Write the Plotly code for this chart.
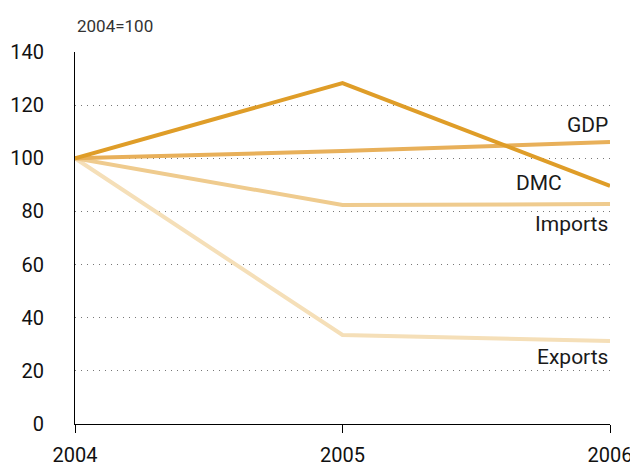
import plotly.graph_objects as go

years = [2004, 2005, 2006]
dmc = [100, 128.3, 89.6]
gdp = [100, 102.7, 106.1]
imports = [100, 82.4, 82.8]
exports = [100, 33.5, 31.2]
series_names = ["Exports", "Imports", "GDP", "DMC"]
y_ticks = [0, 20, 40, 60, 80, 100, 120, 140]

colors = {"DMC": "#DF9D28", "GDP": "#E8B05A", "Imports": "#EFCB8E", "Exports": "#F5DFB8"}
data = {"DMC": dmc, "GDP": gdp, "Imports": imports, "Exports": exports}

FONT = "Roboto"
fig = go.Figure()
for name in series_names:
    fig.add_trace(go.Scatter(x=years, y=data[name], mode="lines",
                             line=dict(color=colors[name], width=4),
                             name=name, showlegend=False, hoverinfo="skip",
                             cliponaxis=False))

labels = [("GDP", gdp[2], 17, 0), ("DMC", dmc[2], 3, -46), ("Imports", imports[2], -20, 0), ("Exports", exports[2], -16, 0)]
for name, yv, dy, dx in labels:
    fig.add_annotation(x=2006, y=yv, text=name, showarrow=False,
                       xanchor="right", yanchor="middle", yshift=dy, xshift=dx,
                       font=dict(family=FONT, size=21, color="#1a1a1a"))

fig.add_annotation(x=0, y=1, xref="paper", yref="paper", text="2004=100",
                   showarrow=False, xanchor="left", yanchor="bottom", yshift=14,
                   font=dict(family=FONT, size=17, color="#333333"))

# page body has an 8px margin; size the figure to fit the window
fig.update_layout(
    width=630, height=461,
    margin=dict(l=67, r=28, t=44, b=45),
    paper_bgcolor="white", plot_bgcolor="white",
    xaxis=dict(range=[2004, 2006], tickvals=years, ticktext=[str(y) for y in years],
               showgrid=False, zeroline=False, showline=True, linecolor="black", linewidth=1,
               ticks="outside", ticklen=8, tickcolor="black", automargin=False,
               ticklabelstandoff=5,
               tickfont=dict(family=FONT, size=20, color="#111111")),
    yaxis=dict(range=[0, 140], tickvals=y_ticks, showgrid=True, gridcolor="#777777",
               griddash="1px,5px", gridwidth=1, zeroline=False, showline=True,
               linecolor="black", linewidth=1, ticks="", ticklabelstandoff=26,
               automargin=False,
               tickfont=dict(family=FONT, size=20, color="#111111")),
)
fig.write_html("out.html")
